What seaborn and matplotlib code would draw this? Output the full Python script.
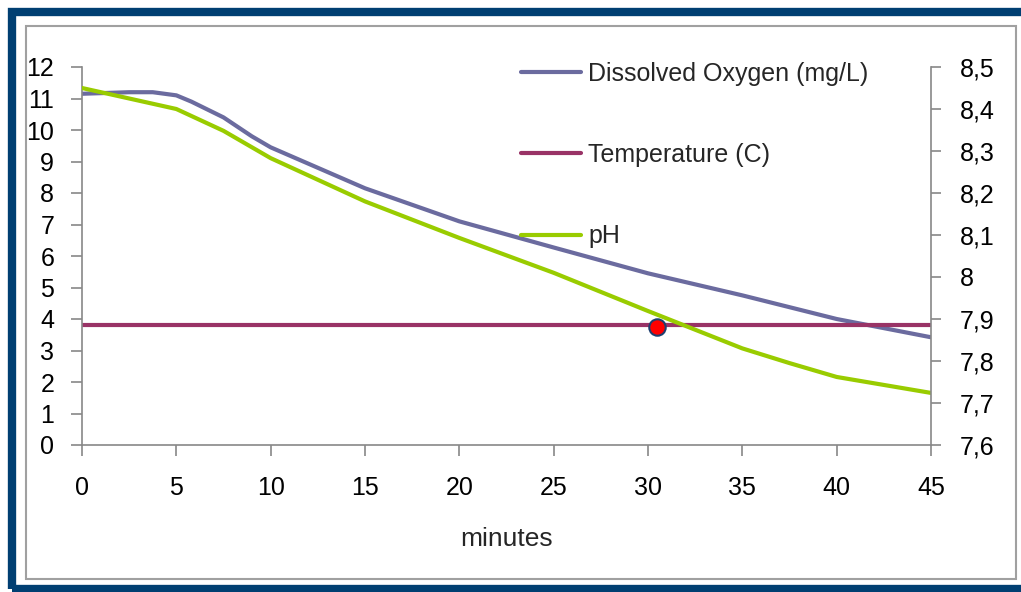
import numpy as np
import pandas as pd
import matplotlib.pyplot as plt
import seaborn as sns
from matplotlib.patches import Rectangle

# values
do_minutes = [0, 2.5, 3.75, 5, 5.8, 7.5, 9, 10, 15, 20, 25, 30, 35, 40, 45]
do_values = [11.15, 11.2, 11.2, 11.1, 10.9, 10.4, 9.8, 9.45, 8.15, 7.1, 6.27, 5.45, 4.75, 4.0, 3.42]
temp_minutes = [0, 45]
temp_values = [3.8, 3.8]
ph_minutes = [0, 5, 7.5, 10, 15, 20, 25, 30, 35, 37.5, 40, 45]
ph_values = [8.45, 8.40, 8.348, 8.283, 8.18, 8.093, 8.01, 7.919, 7.83, 7.795, 7.762, 7.724]
marker_minute = [30.5]
marker_value = [3.76]

sns.set_style('white')
plt.rcParams['font.family'] = ['Liberation Sans', 'DejaVu Sans']

fig = plt.figure(figsize=(10.21, 5.92), dpi=100)
# navy frame and grey inner box
fig.patches.append(Rectangle((12 / 1021, 3 / 592), 1.1, 1 - 15 / 592, transform=fig.transFigure,
                             facecolor='none', edgecolor='#003f72', linewidth=6, zorder=0))
fig.patches.append(Rectangle((26 / 1021, 1 - 579 / 592), (1016 - 26) / 1021, (579 - 26) / 592,
                             transform=fig.transFigure, facecolor='none', edgecolor='#a0a0a0',
                             linewidth=1.5, zorder=0))

ax = fig.add_axes([82 / 1021, 1 - 445 / 592, (931 - 82) / 1021, (445 - 67) / 592])
ax2 = ax.twinx()

do_df = pd.DataFrame({'minutes': do_minutes, 'value': do_values})
temp_df = pd.DataFrame({'minutes': temp_minutes, 'value': temp_values})
ph_df = pd.DataFrame({'minutes': ph_minutes, 'value': ph_values})

sns.lineplot(data=do_df, x='minutes', y='value', ax=ax, color='#6b6b9f', linewidth=3,
             label='Dissolved Oxygen (mg/L)', legend=False)
sns.lineplot(data=temp_df, x='minutes', y='value', ax=ax, color='#993366', linewidth=3,
             label='Temperature (C)', legend=False)
sns.lineplot(data=ph_df, x='minutes', y='value', ax=ax2, color='#99cc00', linewidth=3,
             label='pH', legend=False)
ax2.scatter(marker_minute, [7.6 + (v / 12) * 0.9 for v in marker_value], s=140, color='red',
            edgecolor='#1f3f6f', linewidth=1.5, zorder=5)

ax.set_xlim(0, 45)
ax.set_ylim(0, 12)
ax2.set_ylim(7.6, 8.5)
ax.set_xticks(range(0, 46, 5))
ax.set_yticks(range(0, 13))
ph_ticks = np.round(np.arange(7.6, 8.51, 0.1), 1)
ax2.set_yticks(ph_ticks)
ax2.set_yticklabels([('%g' % t).replace('.', ',') for t in ph_ticks])

for a in (ax, ax2):
    for s in a.spines.values():
        s.set_color('#888888')
        s.set_linewidth(1.2)
    a.spines['top'].set_visible(False)
ax.spines['right'].set_visible(False)
ax2.spines['left'].set_visible(False)
ax2.spines['bottom'].set_visible(False)

ax.tick_params(axis='both', direction='out', length=8, width=1.2, color='#888888',
               labelsize=18, labelcolor='black', left=True, bottom=True)
ax.tick_params(axis='y', pad=12)
ax.tick_params(axis='x', pad=14)
ax2.tick_params(axis='y', direction='out', length=7, width=1.2, color='#888888',
                labelsize=18, labelcolor='black', right=True, pad=14)
ax.set_xlabel('minutes', fontsize=19, labelpad=20)
ax.set_ylabel('')
ax2.set_ylabel('')

# legend on the right of the plot area
handles = ax.get_lines()[:2] + ax2.get_lines()[:1]
labels = ['Dissolved Oxygen (mg/L)', 'Temperature (C)', 'pH']
fig.legend(handles, labels, loc='upper left', bbox_to_anchor=(498 / 1021, 1 - 39 / 592),
           frameon=False, fontsize=18, handlelength=2.4, handletextpad=0.3,
           labelspacing=2.3)

fig.savefig('out.png', dpi=100)
